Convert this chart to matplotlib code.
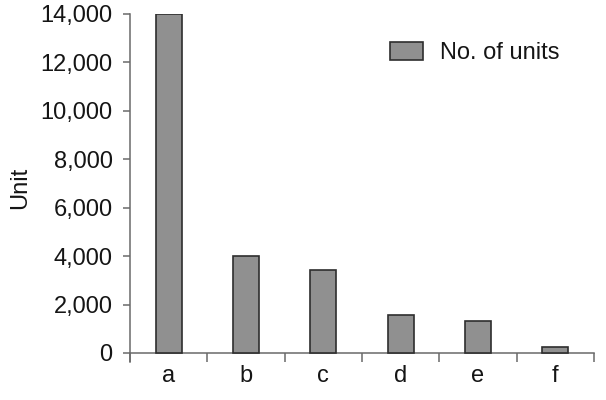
import matplotlib
matplotlib.use("Agg")
import matplotlib.pyplot as plt
import numpy as np

categories = ["a", "b", "c", "d", "e", "f"]
units = [14000, 4000, 3430, 1570, 1335, 260]
y_ticks = [0, 2000, 4000, 6000, 8000, 10000, 12000, 14000]

BAR = "#909090"
EDGE = "#2e2e2e"
AXIS = "#6a6a6a"
TEXT = "#151515"

plt.rcParams["font.family"] = ["Liberation Sans", "DejaVu Sans"]

fig = plt.figure(figsize=(6.06, 4.0), dpi=100)
ax = fig.add_axes([130 / 606, 38 / 400, 464 / 606, 348 / 400])

x = np.arange(len(categories))
ax.bar(x, units, width=0.34, color=BAR, edgecolor=EDGE, linewidth=1.2,
       label="No. of units", zorder=3)

ax.set_xlim(-0.5, len(categories) - 0.5)
ax.set_ylim(-372, 14000)

for s in ("top", "right"):
    ax.spines[s].set_visible(False)
for s in ("left", "bottom"):
    ax.spines[s].set_color(AXIS)
    ax.spines[s].set_linewidth(1.1)
ax.spines["bottom"].set_position(("data", 0))

ax.set_yticks(y_ticks)
ax.set_yticklabels([f"{v:,}" for v in y_ticks])
ax.tick_params(axis="y", direction="out", length=5, width=1.1, color=AXIS,
               labelsize=17, labelcolor=TEXT, pad=7.5)

ax.set_xticks(x)
ax.set_xticklabels(categories)
ax.set_xticks(np.arange(-0.5, len(categories)), minor=True)
ax.tick_params(axis="x", which="major", length=0, labelsize=17,
               labelcolor=TEXT, pad=9)
ax.tick_params(axis="x", which="minor", direction="out", length=6.5,
               width=1.1, color=AXIS)

ax.set_ylabel("Unit", fontsize=17, color=TEXT, labelpad=7)

fig.legend(loc="center left", bbox_to_anchor=(390 / 606, 1 - 53 / 400),
           frameon=False, fontsize=17, handlelength=1.4, handleheight=0.8,
           handletextpad=0.72, borderpad=0, borderaxespad=0,
           labelcolor=TEXT)

fig.savefig("out.png", dpi=100, facecolor="white")
